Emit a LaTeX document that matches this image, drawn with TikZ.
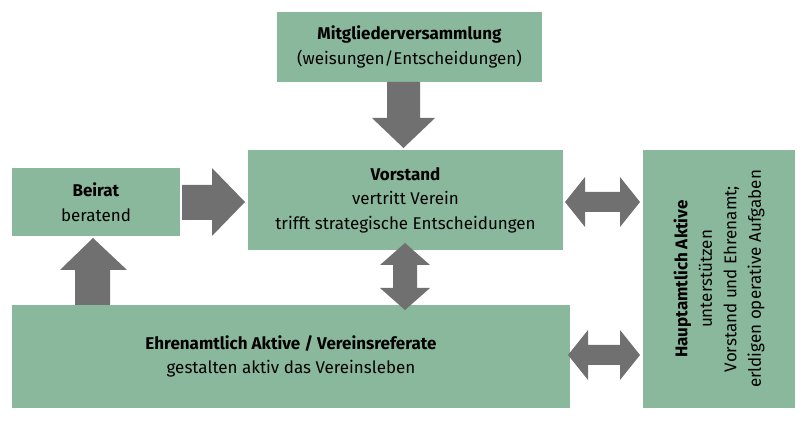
\documentclass[tikz,border=0pt]{standalone}
\usepackage{fontspec}
\setmainfont{Fira Sans}
\definecolor{boxg}{HTML}{8AB89C}
\definecolor{arrg}{HTML}{707070}
\begin{document}
\begin{tikzpicture}[x=1pt,y=-1pt,
  bx/.style={fill=boxg,draw=none,inner sep=0pt,align=center,font=\fontsize{17}{24.5}\selectfont},
  ar/.style={fill=arrg,draw=none}]
\useasboundingbox (0,0) rectangle (807,422);
\fill[white] (0,0) rectangle (807,422);
\node[bx,minimum width=265,minimum height=70] (mv) at (409.5,47) {\textbf{Mitgliederversammlung}\\(weisungen/Entscheidungen)};
\node[bx,minimum width=315,minimum height=100] (vs) at (405.5,200) {\textbf{Vorstand}\\vertritt Verein\\trifft strategische Entscheidungen};
\node[bx,minimum width=168,minimum height=68] (br) at (96,202) {\textbf{Beirat}\\beratend};
\node[bx,minimum width=558,minimum height=103] (ea) at (291,356.5) {\textbf{Ehrenamtlich Aktive / Vereinsreferate}\\gestalten aktiv das Vereinsleben};
\node[bx,minimum width=152,minimum height=258] (ha) at (719,279) {};
\node[rotate=90,align=center,font=\fontsize{17}{24.5}\selectfont] at (ha.center) {\textbf{Hauptamtlich Aktive}\\unterstützen\\Vorstand und Ehrenamt;\\erldigen operative Aufgaben};
% arrows
\fill[ar] (387,82)--(420,82)--(420,118)--(435,118)--(403.5,148)--(372,118)--(387,118)--cycle;
\fill[ar] (182,185)--(212,185)--(212,168)--(245,202)--(212,236)--(212,220)--(182,220)--cycle;
\fill[ar] (93,238)--(127,270)--(110,270)--(110,305)--(75,305)--(75,270)--(60,270)--cycle;
\fill[ar] (405,243)--(430,265)--(417,265)--(417,288)--(430,288)--(405,310)--(380,288)--(393,288)--(393,265)--(380,265)--cycle;
\fill[ar] (565,202)--(585,177)--(585,192)--(620,192)--(620,177)--(640,202)--(620,227)--(620,212)--(585,212)--(585,227)--cycle;
\fill[ar] (568,355)--(588,330)--(588,345)--(620,345)--(620,330)--(640,355)--(620,380)--(620,365)--(588,365)--(588,380)--cycle;
\end{tikzpicture}
\end{document}
